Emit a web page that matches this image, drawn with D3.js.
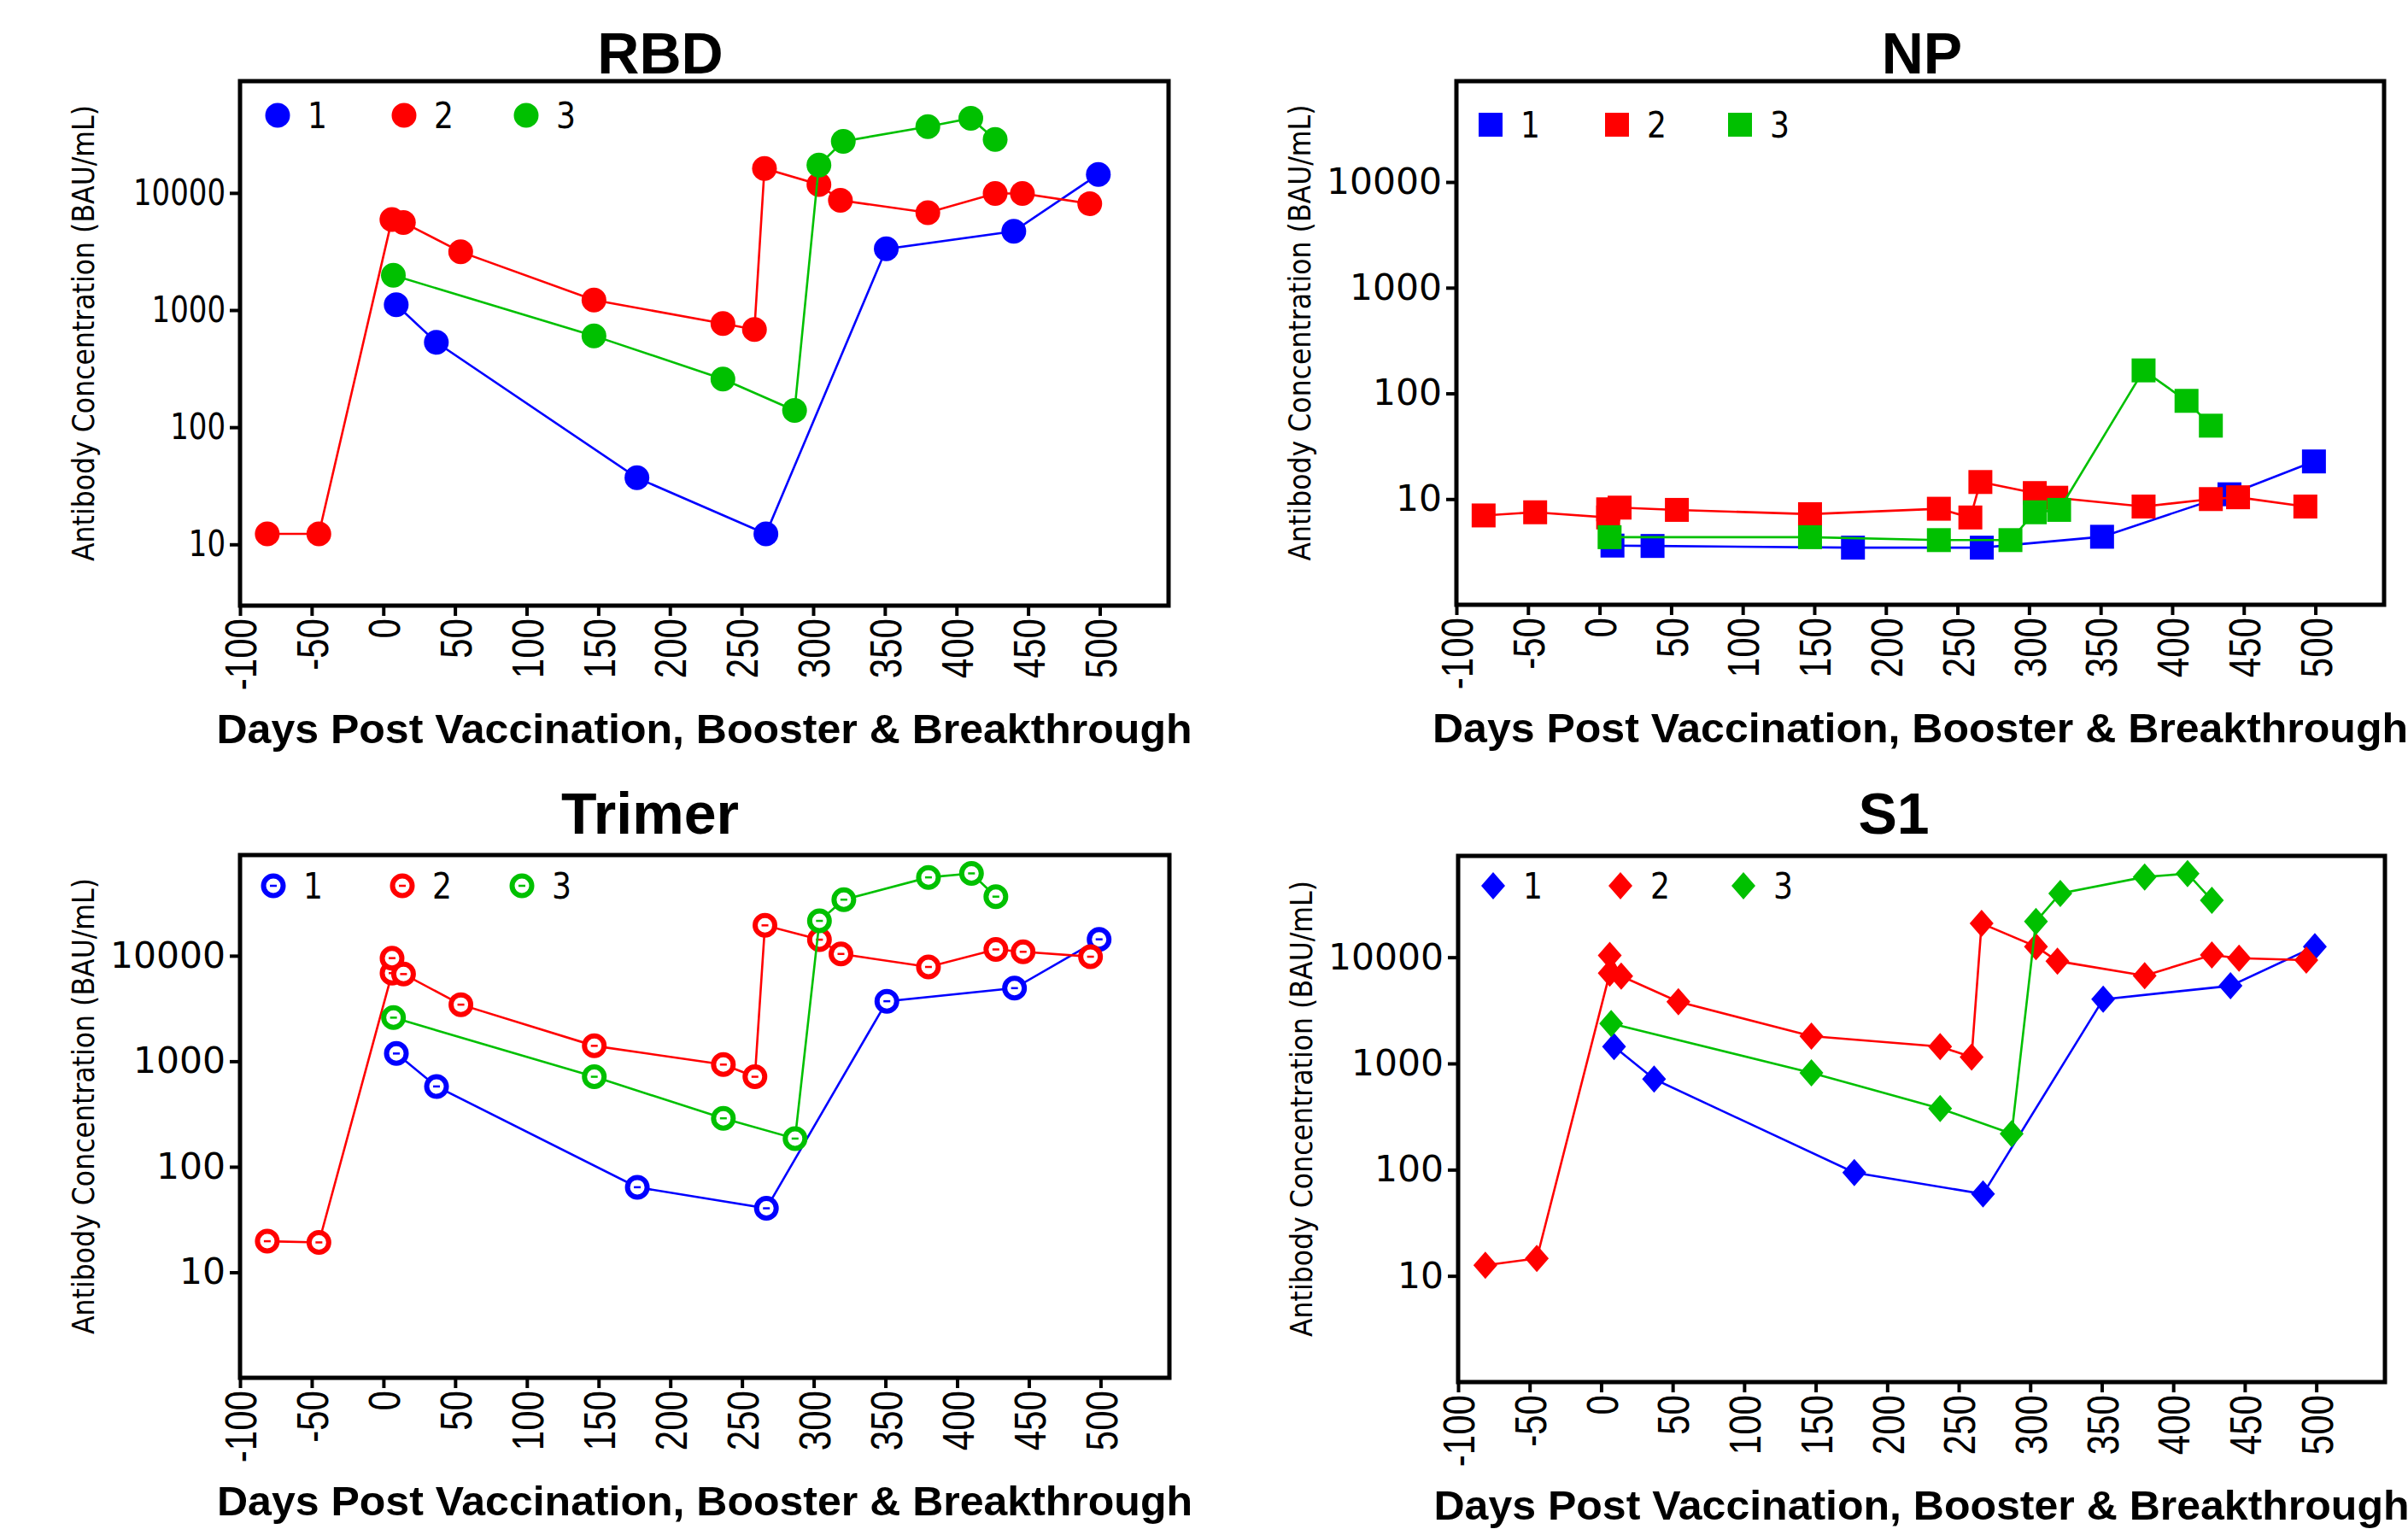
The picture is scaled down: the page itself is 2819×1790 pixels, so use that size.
<!DOCTYPE html>
<html>
<head>
<meta charset="utf-8">
<script src="https://cdn.jsdelivr.net/npm/d3@7"></script>
<style>
  html, body { margin: 0; padding: 0; background: #fff; }
  svg { display: block; }
</style>
</head>
<body>
<div id="chart"></div>
<script>
// ---------- Data (days + BAU/mL) ----------
const blueDays  = [9, 37, 177, 267, 351, 440, 499];
const redDays   = [-81, -45, 6, 6, 14, 54, 147, 237, 259, 266, 304, 319, 380, 427, 446, 493];
const greenDays = [7, 147, 237, 287, 304, 321, 380, 410, 427];

const rbdBlue  = [1110, 530, 37, 12.3, 3330, 4710, 14400];
const rbdRed   = [12.3, 12.3, 5940, null, 5600, 3140, 1220, 767, 683, 16200, 11800, 8650, 6790, 9900, 9900, 8090];
const rbdGreen = [1980, 603, 258, 139, 17300, 27600, 36800, 43400, 28600];

const npBlue  = [3.63, 3.6, 3.47, 3.47, 4.4, 11.1, 22.7];
const npRed   = [7.0, 7.5, 6.7, 8.0, 8.3, 7.9, 7.2, 8.1, 6.7, 14.5, 11.4, 10.3, 8.5, 10.0, 10.4, 8.5];
const npGreen = [4.36, 4.36, 4.09, 4.09, 7.5, 7.9, 165, 85, 49.5];

const trimerBlue  = [1184, 577, 64, 40.4, 3706, 4930, 14300];
const trimerRed   = [19.7, 19.2, 6840, 9490, 6700, 3440, 1400, 930, 713, 19400, 14200, 10400, 7830, 11470, 10900, 9790];
const trimerGreen = [2590, 713, 288, 185, 21400, 34000, 55300, 60300, 36300];

const s1Blue  = [1440, 713, 94, 59, 4020, 5380, 12600];
const s1Red   = [12.6, 14.6, 7080, 10400, 6640, 3810, 1810, 1440, 1150, 20800, 12600, 9200, 6710, 10500, 9790, 9400];
const s1Green = [2380, 817, 377, 218, 21700, 39900, 57000, 61300, 34400];

const seriesNames  = ["1", "2", "3"];
const seriesColors = ["#0000ff", "#ff0000", "#00c000"];
const xTicks = d3.range(-100, 501, 50);
const yTicks = [10, 100, 1000, 10000];

const xTitle = "Days Post Vaccination, Booster & Breakthrough";
const yTitle = "Antibody Concentration (BAU/mL)";

// ---------- Layout per panel ----------
const W = 2819, H = 1790;
const panels = [
  { title: "RBD",    marker: "circle",  vals: [rbdBlue, rbdRed, rbdGreen],
    x0: 281,  x1: 1368, y0: 95,   y1: 709,  yMin: 3, titleX: 773,  titleY: 86,
    digitW: 21.6, legY: 135,  legX: [325, 473, 616] },
  { title: "NP",     marker: "square",  vals: [npBlue, npRed, npGreen],
    x0: 1705, x1: 2791, y0: 95,   y1: 708,  yMin: 1, titleX: 2250, titleY: 86,
    digitW: 27, legY: 146,  legX: [1745, 1893, 2037] },
  { title: "Trimer", marker: "ring",    vals: [trimerBlue, trimerRed, trimerGreen],
    x0: 281,  x1: 1369, y0: 1001, y1: 1613, yMin: 1, titleX: 761,  titleY: 976,
    digitW: 27, legY: 1037, legX: [320, 471, 611] },
  { title: "S1",     marker: "diamond", vals: [s1Blue, s1Red, s1Green],
    x0: 1707, x1: 2792, y0: 1002, y1: 1618, yMin: 1, titleX: 2217, titleY: 976,
    digitW: 27, legY: 1037, legX: [1748, 1897, 2041] },
];
const daysBySeries = [blueDays, redDays, greenDays];

const sans = "'DejaVu Sans', Verdana, sans-serif";
const arial = "'Liberation Sans', Arial, sans-serif";

const svg = d3.select("#chart").append("svg")
  .attr("width", W).attr("height", H)
  .attr("viewBox", `0 0 ${W} ${H}`);

function drawMarker(sel, type, color) {
  if (type === "circle") {
    sel.append("circle").attr("r", 14.5).attr("fill", color);
  } else if (type === "square") {
    sel.append("rect").attr("x", -14).attr("y", -14).attr("width", 28).attr("height", 28).attr("fill", color);
  } else if (type === "ring") {
    sel.append("circle").attr("r", 11.5).attr("fill", "#fff").attr("stroke", color).attr("stroke-width", 6);
    sel.append("line").attr("x1", -4).attr("x2", 4).attr("stroke", color).attr("stroke-width", 2.5);
  } else {
    sel.append("path").attr("d", "M0,-16L14,0L0,16L-14,0Z").attr("fill", color);
  }
}

panels.forEach(p => {
  const x = d3.scaleLinear().domain([-100, 548]).range([p.x0, p.x1]);
  const y = d3.scaleLog().domain([p.yMin, 90000]).range([p.y1, p.y0]);
  const g = svg.append("g");

  // title
  g.append("text")
    .attr("x", p.titleX).attr("y", p.titleY)
    .attr("text-anchor", "middle")
    .attr("font-family", arial).attr("font-weight", "bold").attr("font-size", 68)
    .text(p.title);

  // y axis
  const yAxis = g.append("g")
    .attr("transform", `translate(${p.x0},0)`)
    .call(d3.axisLeft(y).tickValues(yTicks).tickFormat(d => String(d)).tickSize(12).tickPadding(5));
  yAxis.select(".domain").remove();
  yAxis.selectAll(".tick line").attr("stroke", "#000").attr("stroke-width", 4);
  yAxis.selectAll(".tick text")
    .attr("font-family", sans).attr("font-size", 42).attr("fill", "#000")
    .attr("textLength", d => String(d).length * p.digitW)
    .attr("lengthAdjust", "spacingAndGlyphs");

  // x axis
  const xAxis = g.append("g")
    .attr("transform", `translate(0,${p.y1})`)
    .call(d3.axisBottom(x).tickValues(xTicks).tickSize(12).tickFormat(d => String(d)));
  xAxis.select(".domain").remove();
  xAxis.selectAll(".tick line").attr("stroke", "#000").attr("stroke-width", 4);
  xAxis.selectAll(".tick text")
    .attr("font-family", arial).attr("font-size", 52).attr("fill", "#000")
    .attr("text-anchor", "end")
    .attr("transform", "rotate(-90)")
    .attr("x", -15).attr("y", 0).attr("dy", "0.36em")
    .attr("textLength", d => String(Math.abs(d)).length * 23.4 + (d < 0 ? 14 : 0))
    .attr("lengthAdjust", "spacingAndGlyphs");

  // frame
  g.append("rect")
    .attr("x", p.x0).attr("y", p.y0)
    .attr("width", p.x1 - p.x0).attr("height", p.y1 - p.y0)
    .attr("fill", "none").attr("stroke", "#000").attr("stroke-width", 5);

  // axis titles
  g.append("text")
    .attr("transform", `translate(${p.x0 - 184},${(p.y0 + p.y1) / 2 - 12}) rotate(-90)`)
    .attr("text-anchor", "middle").attr("dominant-baseline", "central")
    .attr("font-family", sans).attr("font-size", 36)
    .attr("textLength", 534).attr("lengthAdjust", "spacingAndGlyphs")
    .text(yTitle);

  g.append("text")
    .attr("x", (p.x0 + p.x1) / 2).attr("y", p.y1 + 161)
    .attr("text-anchor", "middle")
    .attr("font-family", arial).attr("font-weight", "bold").attr("font-size", 48)
    .attr("textLength", 1142).attr("lengthAdjust", "spacingAndGlyphs")
    .text(xTitle);

  // series
  const line = d3.line().x(d => x(d[0])).y(d => y(d[1]));
  p.vals.forEach((vals, i) => {
    const pts = daysBySeries[i].map((d, j) => [d, vals[j]]).filter(d => d[1] != null);
    g.append("path")
      .attr("d", line(pts))
      .attr("fill", "none").attr("stroke", seriesColors[i]).attr("stroke-width", 2.6);
    g.append("g").selectAll("g")
      .data(pts).join("g")
      .attr("transform", d => `translate(${x(d[0])},${y(d[1])})`)
      .each(function () { drawMarker(d3.select(this), p.marker, seriesColors[i]); });
  });

  // legend
  seriesNames.forEach((name, i) => {
    const lg = g.append("g").attr("transform", `translate(${p.legX[i]},${p.legY})`);
    drawMarker(lg, p.marker, seriesColors[i]);
    lg.append("text")
      .attr("x", 35).attr("dy", "0.36em")
      .attr("font-family", sans).attr("font-size", 42)
      .attr("textLength", 23).attr("lengthAdjust", "spacingAndGlyphs")
      .text(name);
  });
});
</script>
</body>
</html>
